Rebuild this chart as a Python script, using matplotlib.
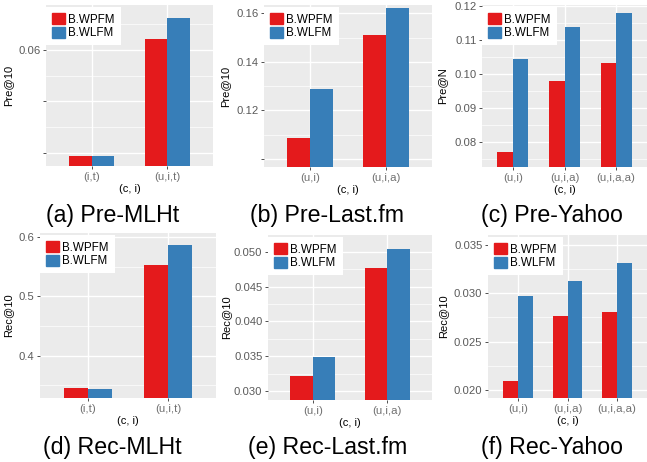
import numpy as np
import matplotlib
matplotlib.use("Agg")
import matplotlib.pyplot as plt
from matplotlib.patches import Patch

plt.rcParams["font.family"] = ["Liberation Sans", "DejaVu Sans"]

# values
series_names = ["B.WPFM", "B.WLFM"]
mlht_cats = ["(i,t)", "(u,i,t)"]
lastfm_cats = ["(u,i)", "(u,i,a)"]
yahoo_cats = ["(u,i)", "(u,i,a)", "(u,i,a,a)"]

pre_mlht_wpfm = [0.0394, 0.0621]
pre_mlht_wlfm = [0.0394, 0.0662]
pre_lastfm_wpfm = [0.1085, 0.1512]
pre_lastfm_wlfm = [0.1287, 0.1623]
pre_yahoo_wpfm = [0.0771, 0.0979, 0.1032]
pre_yahoo_wlfm = [0.1044, 0.1138, 0.1180]

rec_mlht_wpfm = [0.3455, 0.5535]
rec_mlht_wlfm = [0.3438, 0.5873]
rec_lastfm_wpfm = [0.0322, 0.0477]
rec_lastfm_wlfm = [0.0349, 0.0504]
rec_yahoo_wpfm = [0.0209, 0.0276, 0.0280]
rec_yahoo_wlfm = [0.0297, 0.0312, 0.0331]

pre_mlht_ticks = [0.04, 0.05, 0.06]
pre_mlht_labels = ["", "", "0.06"]
pre_lastfm_ticks = [0.10, 0.12, 0.14, 0.16]
pre_lastfm_labels = ["", "0.12", "0.14", "0.16"]
pre_yahoo_ticks = [0.08, 0.09, 0.10, 0.11, 0.12]
pre_yahoo_labels = ["0.08", "0.09", "0.10", "0.11", "0.12"]
rec_mlht_ticks = [0.4, 0.5, 0.6]
rec_mlht_labels = ["0.4", "0.5", "0.6"]
rec_lastfm_ticks = [0.030, 0.035, 0.040, 0.045, 0.050]
rec_lastfm_labels = ["0.030", "0.035", "0.040", "0.045", "0.050"]
rec_yahoo_ticks = [0.020, 0.025, 0.030, 0.035]
rec_yahoo_labels = ["0.020", "0.025", "0.030", "0.035"]

RED = "#E41A1C"
BLUE = "#377EB8"
W, H = 647, 462

# box = (left, top, right, bottom) in pixels
panels = [
    dict(cats=mlht_cats, s1=pre_mlht_wpfm, s2=pre_mlht_wlfm, ylabel="Pre@10",
         title="(a) Pre-MLHt", box=(46, 5, 213, 166), ylim=(0.0375, 0.0687),
         ticks=pre_mlht_ticks, labels=pre_mlht_labels, ylab_x=13, title_xy=(112.5, 222)),
    dict(cats=lastfm_cats, s1=pre_lastfm_wpfm, s2=pre_lastfm_wlfm, ylabel="Pre@10",
         title="(b) Pre-Last.fm", box=(264, 5, 432, 167), ylim=(0.0967, 0.1634),
         ticks=pre_lastfm_ticks, labels=pre_lastfm_labels, ylab_x=230, title_xy=(327.5, 222)),
    dict(cats=yahoo_cats, s1=pre_yahoo_wpfm, s2=pre_yahoo_wlfm, ylabel="Pre@N",
         title="(c) Pre-Yahoo", box=(482, 5, 647, 167), ylim=(0.0728, 0.1203),
         ticks=pre_yahoo_ticks, labels=pre_yahoo_labels, ylab_x=447, title_xy=(551.5, 222)),
    dict(cats=mlht_cats, s1=rec_mlht_wpfm, s2=rec_mlht_wlfm, ylabel="Rec@10",
         title="(d) Rec-MLHt", box=(40, 233, 216, 398), ylim=(0.3285, 0.607),
         ticks=rec_mlht_ticks, labels=rec_mlht_labels, ylab_x=13, title_xy=(112.5, 454)),
    dict(cats=lastfm_cats, s1=rec_lastfm_wpfm, s2=rec_lastfm_wlfm, ylabel="Rec@10",
         title="(e) Rec-Last.fm", box=(268, 235, 432, 400), ylim=(0.0287, 0.0524),
         ticks=rec_lastfm_ticks, labels=rec_lastfm_labels, ylab_x=231, title_xy=(327.5, 454)),
    dict(cats=yahoo_cats, s1=rec_yahoo_wpfm, s2=rec_yahoo_wlfm, ylabel="Rec@10",
         title="(f) Rec-Yahoo", box=(488, 235, 647, 398), ylim=(0.01917, 0.0360),
         ticks=rec_yahoo_ticks, labels=rec_yahoo_labels, ylab_x=448, title_xy=(552, 454)),
]

fig = plt.figure(figsize=(W / 100, H / 100), dpi=100)

for p in panels:
    x0, y0, x1, y1 = p["box"]
    ax = fig.add_axes([x0 / W, 1 - y1 / H, (x1 - x0) / W, (y1 - y0) / H])
    ax.set_facecolor("#EBEBEB")
    for s in ax.spines.values():
        s.set_visible(False)

    x = np.arange(len(p["cats"]))
    ax.bar(x - 0.15, p["s1"], 0.3, color=RED, label=series_names[0])
    ax.bar(x + 0.15, p["s2"], 0.3, color=BLUE, label=series_names[1])
    ax.set_xlim(-0.6, len(p["cats"]) - 0.4)
    ax.set_ylim(*p["ylim"])

    ax.set_xticks(x)
    ax.set_xticklabels(p["cats"], fontsize=8.2, color="#707070")
    ticks = np.array(p["ticks"])
    ax.set_yticks(ticks)
    ax.set_yticklabels(p["labels"], fontsize=8.1, color="#5A5A5A")
    step = ticks[1] - ticks[0]
    minor = np.concatenate([[ticks[0] - step / 2], ticks + step / 2])
    minor = minor[(minor > p["ylim"][0]) & (minor < p["ylim"][1])]
    ax.set_yticks(minor, minor=True)

    ax.tick_params(axis="both", which="major", length=2.5, width=0.6,
                   color="#333333", pad=1.5)
    ax.tick_params(which="minor", length=0)
    ax.grid(which="major", color="white", linewidth=1.0)
    ax.grid(which="minor", axis="y", color="white", linewidth=0.5)
    ax.set_axisbelow(True)

    ax.set_xlabel("(c, i)", fontsize=8, labelpad=1.5)
    ax.set_ylabel(p["ylabel"], fontsize=8)
    ax.yaxis.set_label_coords((p["ylab_x"] - x0) / (x1 - x0), 0.5)

    handles = [Patch(color=RED, label=series_names[0]),
               Patch(color=BLUE, label=series_names[1])]
    leg = ax.legend(handles=handles, loc="upper left",
                    bbox_to_anchor=(0, 1 - 2 / (y1 - y0)), borderaxespad=0,
                    fancybox=False, edgecolor="none", facecolor="white",
                    framealpha=1, fontsize=8.4, handlelength=1.15,
                    handleheight=1.15, handletextpad=0.25, labelspacing=0.08,
                    borderpad=0.5)
    leg.get_frame().set_linewidth(0)

    tx, ty = p["title_xy"]
    fig.text(tx / W, 1 - ty / H, p["title"], ha="center", va="baseline",
             fontsize=16.7)

fig.savefig("out.png", dpi=100)
